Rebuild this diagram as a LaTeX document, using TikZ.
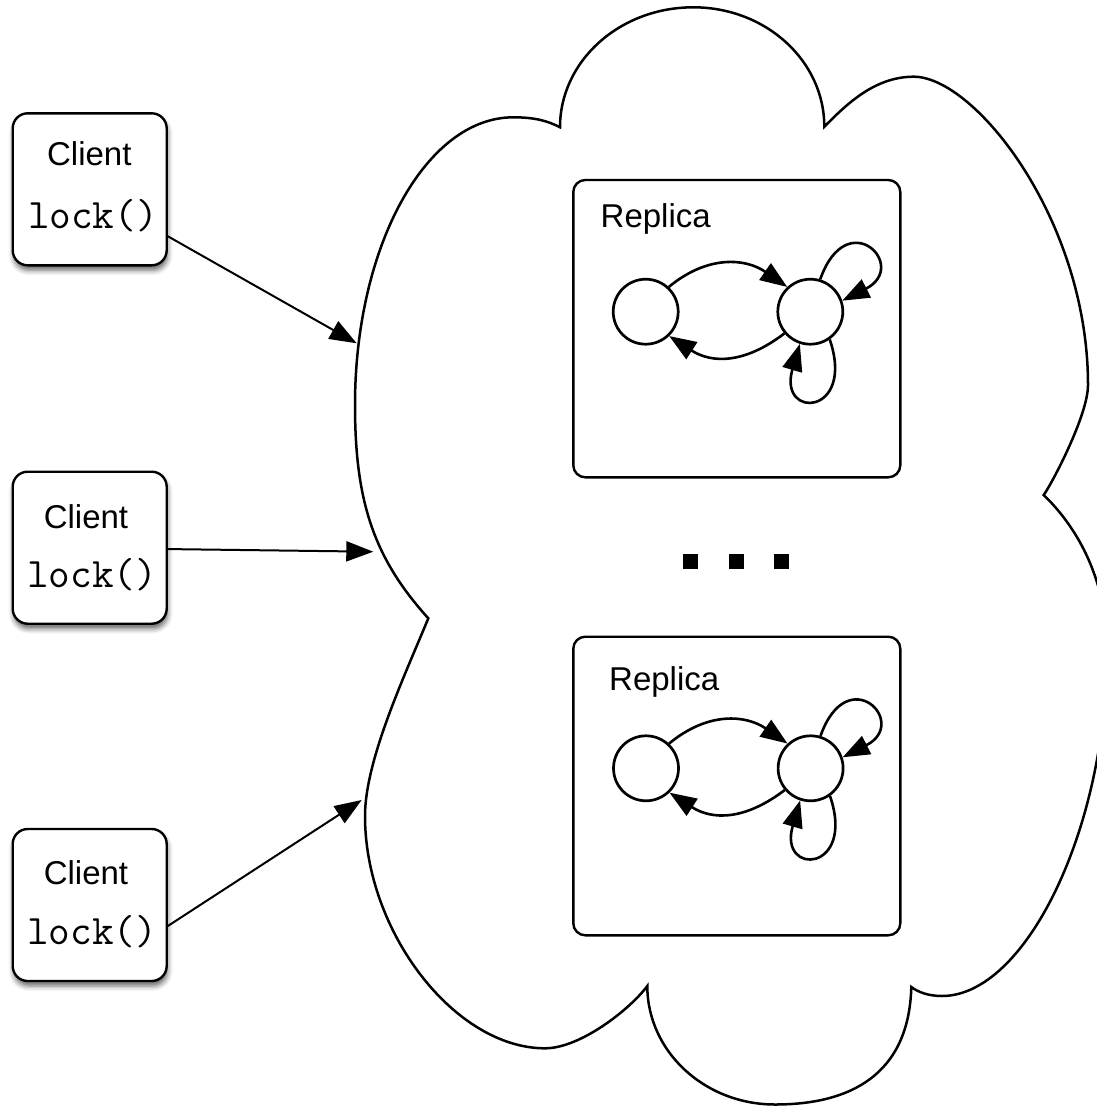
\documentclass[tikz,border=0pt]{standalone}
\usepackage{fontspec}
\newfontfamily\labelsans{Liberation Sans}
\usetikzlibrary{arrows.meta,shadows.blur}

\tikzset{
  cloudline/.style={line width=2.5pt},
  clientbox/.style={draw, line width=2.4pt, rounded corners=15pt,
    minimum width=154pt, minimum height=152pt, fill=white, inner sep=0pt,
    blur shadow={shadow xshift=1pt, shadow yshift=-5pt,
      shadow blur radius=5pt, shadow opacity=60}},
  clientname/.style={font=\labelsans\fontsize{33}{40}\selectfont, inner sep=0pt, anchor=base},
  clientcall/.style={font=\ttfamily\fontsize{42}{50}\selectfont, inner sep=0pt, anchor=base},
  replicabox/.style={draw, line width=2.4pt, rounded corners=12pt,
    minimum width=327pt, inner sep=0pt},
  replicaname/.style={font=\labelsans\fontsize{33}{40}\selectfont, inner sep=0pt, anchor=base west},
  state/.style={draw, circle, line width=2.7pt, minimum size=65pt, inner sep=0pt},
  tipped/.style={-{Triangle[length=27pt,width=20pt]}},
  link/.style={line width=2.6pt, tipped},
  call/.style={line width=2pt, tipped},
  dotsq/.style={fill=black, minimum size=15pt, inner sep=0pt},
  % two states with transitions and two self loops
  machine/.pic={
    \node[state] (-l) at (0,0) {};
    \node[state] (-r) at (164.6,0) {};
    \draw[link] (-l.47) .. controls (62.1,-57) and (100,-53.5) .. (-r.133);
    \draw[link] (-r.220) .. controls (98.9,52.1) and (66.3,52) .. (-l.-46);
    \draw[link] (-r.73) .. controls (201.5,-108.6) and (264.3,-45.4) .. (-r.19);
    \draw[link] (-r.-55) .. controls (210.2,104.3) and (131.9,108.4) .. (-r.-108);
  }
}

\begin{document}
\begin{tikzpicture}[x=1pt,y=-1pt]
\useasboundingbox (0,0) rectangle (1097,1106);

% the cloud: six lobes meeting in cusps
\draw[cloudline] (428.3,618.3)
  .. controls (373,557.3) and (355,500) .. (355,405)
  .. controls (355,246.1) and (425.9,117.3) .. (513.3,117.3)
  .. controls (535,117.3) and (548,121) .. (560,127.3)
  .. controls (560,61) and (619.7,7.3) .. (693.3,7.3)
  .. controls (765.7,7.3) and (824.3,60.7) .. (824.3,126.7)
  .. controls (845.3,105.7) and (873.7,76.7) .. (913.7,76.7)
  .. controls (975,76.7) and (1088,220) .. (1088,385)
  .. controls (1088,415) and (1052.4,482.7) .. (1043.7,495)
  .. controls (1085,535) and (1107,590) .. (1107,650)
  .. controls (1107,830) and (1025,996) .. (942,996)
  .. controls (928,996) and (918,992) .. (911.3,987)
  .. controls (909,1075) and (850,1104.5) .. (775,1104.5)
  .. controls (704.5,1104.5) and (647.3,1051.4) .. (647.3,986)
  .. controls (629.3,1010) and (580,1048.3) .. (545,1048.3)
  .. controls (455,1048.3) and (365,932) .. (365,816)
  .. controls (365,760) and (405,675) .. (428.3,618.3) -- cycle;

% replicas
\node[replicabox, minimum height=297.3pt] (rep1) at (736.8,328.65) {};
\node[replicabox, minimum height=298.6pt] (rep2) at (736.8,786) {};
\node[replicaname] (rep1n) at (600.5,227.7) {Replica};
\node[replicaname] (rep2n) at (609,690) {Replica};
\pic (m1) at (645.7,311.7) {machine};
\pic (m2) at (646,768.3) {machine};

% ellipsis between the replicas
\node[dotsq] (d1) at (690.8,561.5) {};
\node[dotsq] (d2) at (736.2,561.5) {};
\node[dotsq] (d3) at (781.8,561.5) {};

% clients
\node[clientbox] (c1) at (89.7,189.3) {};
\node[clientbox] (c2) at (89.7,547.7) {};
\node[clientbox] (c3) at (89.7,905) {};
\node[clientname] (c1n) at (89.3,165) {Client};
\node[clientcall] (c1c) at (93,228) {lock()};
\node[clientname] (c2n) at (86,528.3) {Client};
\node[clientcall] (c2c) at (92,587.3) {lock()};
\node[clientname] (c3n) at (86,884) {Client};
\node[clientcall] (c3c) at (92,944) {lock()};

% requests into the cloud
\coordinate (t1) at (356.7,343.3);
\coordinate (t2) at (373.3,551.7);
\coordinate (t3) at (361.7,800);
\draw[call] (c1.-31) -- (t1);
\draw[call] (c2.-1) -- (t2);
\draw[call] (c3.-15) -- (t3);
\end{tikzpicture}
\end{document}
